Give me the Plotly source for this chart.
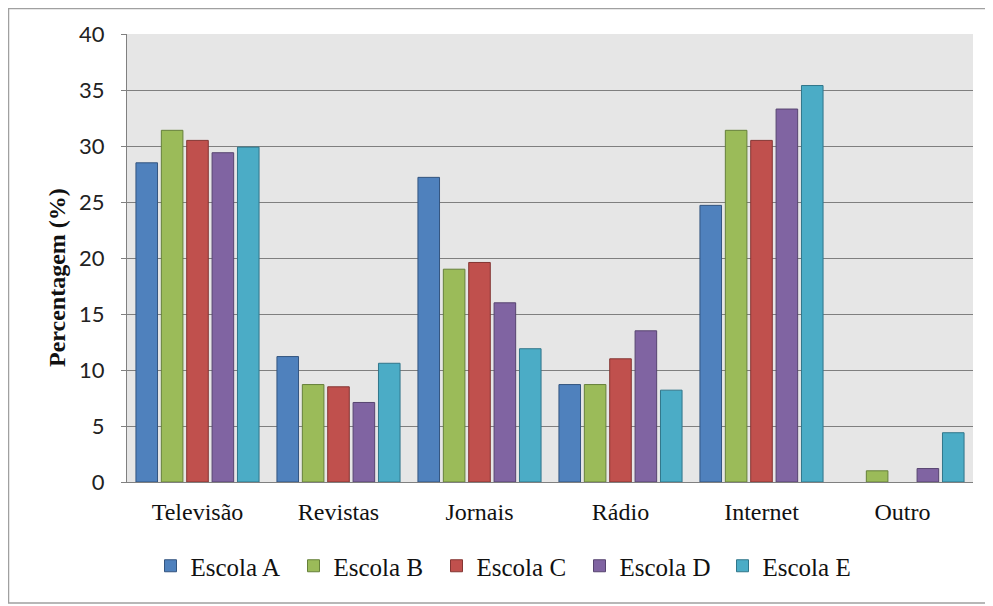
import plotly.graph_objects as go

categories = ["Televisão", "Revistas", "Jornais", "Rádio", "Internet", "Outro"]
series_names = ["Escola A", "Escola B", "Escola C", "Escola D", "Escola E"]
escola_a = [28.5, 11.2, 27.2, 8.7, 24.7, 0.0]
escola_b = [31.4, 8.7, 19.0, 8.7, 31.4, 1.0]
escola_c = [30.5, 8.5, 19.6, 11.0, 30.5, 0.0]
escola_d = [29.4, 7.1, 16.0, 13.5, 33.3, 1.2]
escola_e = [29.9, 10.6, 11.9, 8.2, 35.4, 4.4]
y_ticks = [0, 5, 10, 15, 20, 25, 30, 35, 40]

colors = ["#4F81BD", "#9BBB59", "#C0504D", "#8064A2", "#4BACC6"]
edges = ["#34557F", "#66803A", "#843633", "#574470", "#31768A"]
values = [escola_a, escola_b, escola_c, escola_d, escola_e]

fig = go.Figure()
for name, vals, c, e in zip(series_names, values, colors, edges):
    widths = [1 if v > 0 else 0 for v in vals]
    fig.add_trace(go.Bar(name=name, x=categories, y=vals,
                         marker=dict(color=c, line=dict(color=e, width=widths))))

# page body has an 8px margin: figure starts at screen (8, 8)
OFF = 8
W, H = 993 - OFF, 606 - OFF
PL, PR, PT, PB = 127, 973, 34, 482  # plot area in screen pixels
L, T = PL - OFF, PT - OFF
R = W - L - (PR - PL)
B = H - T - (PB - PT)

def px(x):
    return (x - PL) / (PR - PL)

def py(y):
    return (PB - y) / (PB - PT)

serif = "Liberation Serif, Times New Roman, serif"

fig.update_layout(
    width=W, height=H,
    margin=dict(l=L, r=R, t=T, b=B),
    paper_bgcolor="white",
    plot_bgcolor="#E6E6E6",
    barmode="group",
    bargap=0.1,
    bargroupgap=0.15,
    font=dict(family=serif, color="#111111"),
    legend=dict(orientation="h", x=px(508), xanchor="center",
                y=py(566), yanchor="middle",
                font=dict(family=serif, size=25, color="#111111"),
                itemwidth=30, entrywidth=98, entrywidthmode="pixels",
                tracegroupgap=0),
    showlegend=True,
)
fig.update_xaxes(showgrid=False, showline=True, linecolor="#808080", linewidth=1,
                 tickfont=dict(family=serif, size=24, color="#111111"),
                 ticks="", ticklabelstandoff=8)
fig.update_yaxes(range=[0, 40], tickvals=y_ticks, showgrid=True,
                 gridcolor="#7F7F7F", gridwidth=1,
                 showline=True, linecolor="#808080", linewidth=1,
                 ticks="outside", ticklen=5, tickcolor="#808080",
                 tickfont=dict(family="Lato, Open Sans, sans-serif", size=22, color="#222222"),
                 ticklabelstandoff=12, zeroline=False)

fig.add_annotation(text="<b>Percentagem (%)</b>", xref="paper", yref="paper",
                   x=px(57), y=py(278), textangle=-90, showarrow=False,
                   xanchor="center", yanchor="middle",
                   font=dict(family=serif, size=24, color="#111111"))

fig.add_shape(type="rect", xref="paper", yref="paper",
              x0=px(8.5), x1=px(987), y0=py(603), y1=py(8.5),
              line=dict(color="#A0A0A0", width=1.5), layer="below")

fig.write_html("out.html")
